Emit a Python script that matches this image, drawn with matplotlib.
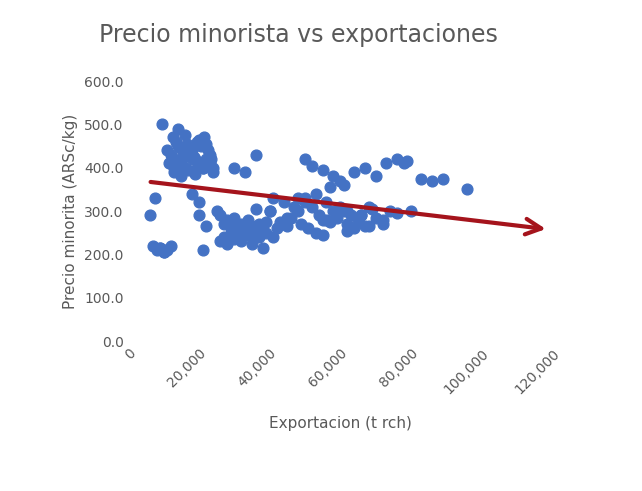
import matplotlib.pyplot as plt

# exportaciones (t rch) y precio minorista (ARSc/kg)
export_x = [
    6000, 7000, 8000, 9000, 10000, 11000, 7500, 9500, 12000, 10500,
    11000, 12000, 13000, 14000, 15000, 16000, 17000, 18000, 19000, 20000,
    21000, 22000, 23000, 24000, 12500, 13500, 14500, 15500, 16500, 17500,
    18500, 19500, 20500, 21500, 22500, 23500, 13000, 15000, 17000, 19000,
    21000, 23000, 14000, 16000, 18000, 20000, 22000, 24000, 15000, 19000,
    11500, 13000, 21000, 22000, 25000, 27000, 29000, 31000, 33000, 36000,
    38000, 26000, 28000, 30000, 32000, 34000, 35000, 37000, 39000, 41000,
    27000, 29000, 31000, 33000, 35000, 37000, 39000, 42000, 44000, 46000,
    26000, 28000, 30000, 32000, 34000, 36000, 38000, 40000, 43000, 45000,
    30000, 33000, 36000, 40000, 48000, 50000, 52000, 54000, 56000, 58000,
    49000, 51000, 53000, 55000, 57000, 59000, 61000, 63000, 65000, 67000,
    60000, 62000, 64000, 66000, 68000, 70000, 72000, 50000, 52000, 55000,
    58000, 61000, 64000, 67000, 70000, 73000, 76000, 79000, 47000, 50000,
    53000, 56000, 59000, 62000, 66000, 69000, 72000, 76000, 80000, 83000,
    86000, 89000, 96000, 78000, 57000, 60000, 44000, 48000, 36000, 20000,
    9000, 10000, 18000, 20000, 41000, 45000, 62000, 68000, 74000, 55000,
]
precio = [
    290, 220, 210, 215, 205, 210, 330, 500, 220, 210,
    440, 430, 420, 450, 410, 400, 430, 440, 420, 410,
    400, 420, 430, 390, 470, 460, 445, 430, 455, 440,
    425, 460, 450, 470, 440, 420, 400, 410, 395, 385,
    400, 410, 490, 475, 420, 465, 455, 400, 380, 395,
    410, 390, 210, 265, 300, 240, 250, 260, 250, 240,
    255, 230, 225, 235, 230, 245, 265, 270, 250, 240,
    270, 260, 250, 265, 225, 240, 275, 260, 270, 285,
    290, 280, 285, 270, 280, 255, 215, 300, 275, 265,
    400, 390, 430, 300, 330, 320, 310, 290, 280, 300,
    270, 260, 250, 245, 275, 285, 300, 290, 275, 265,
    310, 270, 260, 290, 310, 285, 270, 420, 405, 395,
    380, 360, 390, 400, 380, 410, 420, 415, 310, 330,
    340, 320, 300, 300, 290, 305, 280, 295, 300, 375,
    370, 375, 350, 410, 355, 370, 320, 300, 305, 320,
    215, 205, 340, 290, 330, 285, 255, 265, 300, 280,
]
x_ticks = [0, 20000, 40000, 60000, 80000, 100000, 120000]
y_ticks = [0, 100, 200, 300, 400, 500, 600]

fig = plt.figure(figsize=(6.42, 4.91), dpi=100)
ax = fig.add_axes([0.20, 0.305, 0.66, 0.53])
ax.scatter(export_x, precio, s=60, color='#4472C4', zorder=2)

# linea de tendencia con flecha
ax.annotate('', xy=(119000, 258), xytext=(5500, 368),
            arrowprops=dict(arrowstyle='->', color='#A5141C', lw=3,
                            mutation_scale=28))

ax.set_xlim(0, 120000)
ax.set_ylim(0, 600)
ax.set_xticks(x_ticks)
ax.set_xticklabels([f'{v:,}' for v in x_ticks], rotation=45, ha='right',
                   rotation_mode='anchor', color='#595959', fontsize=10)
ax.set_yticks(y_ticks)
ax.set_yticklabels([f'{v:.1f}' for v in y_ticks], color='#595959', fontsize=10)
ax.tick_params(length=0)
for s in ax.spines.values():
    s.set_visible(False)

ax.set_xlabel('Exportacion (t rch)', color='#595959', fontsize=11, labelpad=14)
ax.set_ylabel('Precio minorita (ARSc/kg)', color='#595959', fontsize=11)
fig.text(0.465, 0.915, 'Precio minorista vs exportaciones', ha='center',
         color='#595959', fontsize=17)

fig.savefig('out.png')
